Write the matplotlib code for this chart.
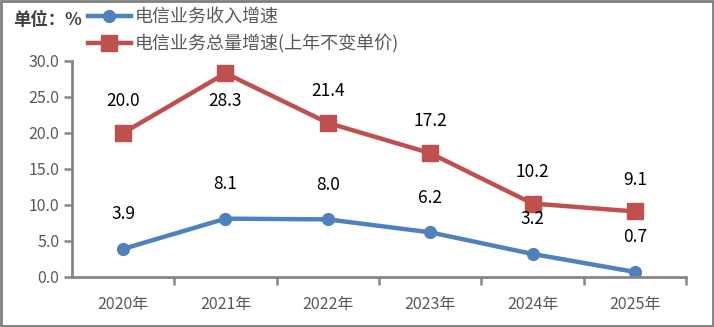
import matplotlib

matplotlib.use("Agg")
import matplotlib.pyplot as plt
from matplotlib.lines import Line2D
from matplotlib.patches import Rectangle

plt.rcParams["font.family"] = ["Noto Sans CJK SC", "DejaVu Sans"]

years = ["2020年", "2021年", "2022年", "2023年", "2024年", "2025年"]
revenue_growth = [3.9, 8.1, 8.0, 6.2, 3.2, 0.7]
volume_growth = [20.0, 28.3, 21.4, 17.2, 10.2, 9.1]
series_names = ["电信业务收入增速", "电信业务总量增速(上年不变单价)"]

BLUE = "#4F81BD"
RED = "#C0504D"
GRAY = "#868686"
TEXT = "#595959"

fig = plt.figure(figsize=(7.14, 3.27), dpi=100)
ax = fig.add_axes([0.1008, 0.153, 0.8600, 0.6605])

x = list(range(len(years)))
ax.plot(x, revenue_growth, color=BLUE, lw=3.2, marker="o", ms=8.5,
        solid_capstyle="round", zorder=3)
ax.plot(x, volume_growth, color=RED, lw=3.2, marker="s", ms=11,
        solid_capstyle="round", zorder=3)

# подписи значений: центр ~24 pt над точкой, у пика 2021 — под точкой
for xi, v in zip(x, revenue_growth):
    ax.annotate(f"{v:.1f}", (xi, v), xytext=(0, 25), textcoords="offset points",
                ha="center", va="center", fontsize=12.5, color="black")
for xi, v in zip(x, volume_growth):
    dy = -20 if v == max(volume_growth) else 23
    ax.annotate(f"{v:.1f}", (xi, v), xytext=(0, dy), textcoords="offset points",
                ha="center", va="center", fontsize=12.5, color="black")

ax.set_xlim(-0.5, len(years) - 0.5)
ax.set_ylim(0, 30)
ax.set_yticks([0, 5, 10, 15, 20, 25, 30])
ax.set_yticklabels([f"{v:.1f}" for v in [0, 5, 10, 15, 20, 25, 30]])
ax.set_xticks(x)
ax.set_xticklabels(years)
ax.set_xticks([i + 0.5 for i in range(len(years))], minor=True)

ax.tick_params(axis="x", which="major", length=0, pad=14, labelsize=11.5,
               labelcolor=TEXT)
ax.tick_params(axis="x", which="minor", length=6, width=1.8, color=GRAY)
ax.tick_params(axis="y", length=6, width=1.8, color=GRAY, labelsize=11.5,
               labelcolor=TEXT, pad=3)

for side in ("top", "right"):
    ax.spines[side].set_visible(False)
for side in ("left", "bottom"):
    ax.spines[side].set_color(GRAY)
    ax.spines[side].set_linewidth(2)
ax.spines["bottom"].set_zorder(4)

# единица измерения и легенда
fig.text(0.018, 0.938, "单位：%", fontsize=12.5, fontweight="bold",
         color="#404040", va="center")
handles = [
    Line2D([], [], color=BLUE, lw=3.2, marker="o", ms=8.5),
    Line2D([], [], color=RED, lw=3.2, marker="s", ms=11),
]
leg = fig.legend(handles, series_names, loc="upper left",
                 bbox_to_anchor=(0.123, 0.975), frameon=False, fontsize=13,
                 handlelength=2.4, handletextpad=0.2, labelspacing=0.45,
                 borderaxespad=0, borderpad=0)
for t in leg.get_texts():
    t.set_color(TEXT)

fig.patches.append(Rectangle((0.002, 0.003), 0.996, 0.994, transform=fig.transFigure,
                             fill=False, edgecolor="#7f7f7f", lw=2))

fig.savefig("out.png", dpi=100)
